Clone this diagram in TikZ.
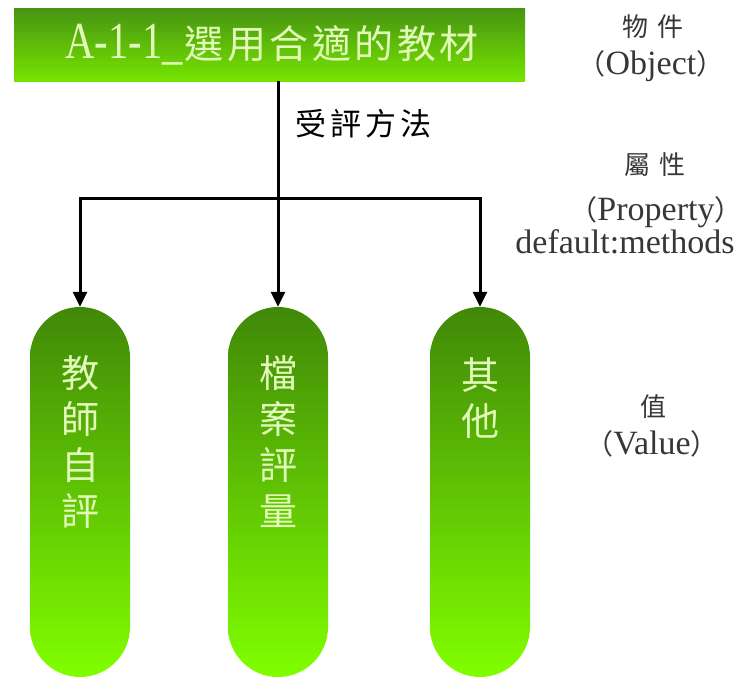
\documentclass[tikz,border=0pt]{standalone}
\usepackage{fontspec}
\setmainfont{Liberation Serif}
\newfontfamily\cjk{Noto Sans CJK TC}
\newfontfamily\narrowserif[FakeStretch=0.78]{Liberation Serif}
\usetikzlibrary{arrows.meta}
\definecolor{boxtop}{RGB}{72,148,18}
\definecolor{boxbot}{RGB}{118,228,0}
\definecolor{pilltop}{RGB}{64,136,8}
\definecolor{pillbot}{RGB}{128,255,0}
\definecolor{lighttxt}{RGB}{225,250,185}
\definecolor{labelgray}{RGB}{55,55,55}
\newcommand\flp{{\cjk\fontsize{28}{28}\selectfont （}}
\newcommand\frp{{\cjk\fontsize{28}{28}\selectfont ）}}
\newcommand\gp{\hspace{3.5pt}}
\tikzset{
  pill/.style={rectangle, minimum width=100pt, minimum height=370pt, inner sep=0pt,
    rounded corners=50pt, top color=pilltop, bottom color=pillbot, draw=none},
  pilltext/.style={anchor=north, inner sep=0pt, align=center, text=lighttxt,
    font=\cjk\fontsize{38}{46}\selectfont},
  conn/.style={line width=3pt, black},
  arr/.style={conn, -{Triangle[width=14pt,length=15pt]}},
  rlabel/.style={text=labelgray, inner sep=0pt, font=\fontsize{34}{34}\selectfont},
  rcjk/.style={text=labelgray, inner sep=0pt, font=\cjk\fontsize{26}{26}\selectfont},
}
\begin{document}
\begin{tikzpicture}[x=1pt,y=-1pt]
\useasboundingbox (0,0) rectangle (744,677);
% object box
\node[rectangle, minimum width=511pt, minimum height=72pt, inner sep=0pt,
  top color=boxtop, bottom color=boxbot, draw=none] (box) at (269.5,45) {};
\node[text=lighttxt, inner sep=0pt] (boxtxt) at (272,45)
  {{\narrowserif\fontsize{52}{52}\selectfont A-1-1\_}\hspace{2pt}{\cjk\fontsize{39}{39}\selectfont 選\gp 用\gp 合\gp 適\gp 的\gp 教\gp 材}};
% property label
\node[anchor=west, inner sep=0pt, font=\cjk\fontsize{31}{31}\selectfont] (prop) at (295,124)
  {受\hspace{4pt}評\hspace{4pt}方\hspace{4pt}法};
% value pills
\node[pill] (p1) at (80,492) {};
\node[pill] (p2) at (278,492) {};
\node[pill] (p3) at (480,492) {};
\node[pilltext] (t1) at (80,355) {教\\師\\自\\評};
\node[pilltext] (t2) at (278,355) {檔\\案\\評\\量};
\node[pilltext] (t3) at (480,357) {其\\他};
% connectors
\coordinate (j) at (278,198);
\draw[conn] (box.south -| j) -- (j);
\draw[arr] (j) -| (p1.north);
\draw[arr] (j) -- (p2.north);
\draw[arr] (j) -| (p3.north);
% right-hand labels
\node[rcjk] (o1) at (653,27) {物\hspace{10pt}件};
\node[rlabel] (o2) at (651,66) {\flp Object\frp};
\node[rcjk] (q1) at (655,165) {屬\hspace{10pt}性};
\node[rlabel] (q2) at (656,212) {\flp Property\frp};
\node[rlabel] (q3) at (625,242) {default:methods};
\node[rcjk] (v1) at (653,407) {值};
\node[rlabel] (v2) at (652,444) {\flp Value\frp};
\end{tikzpicture}
\end{document}
